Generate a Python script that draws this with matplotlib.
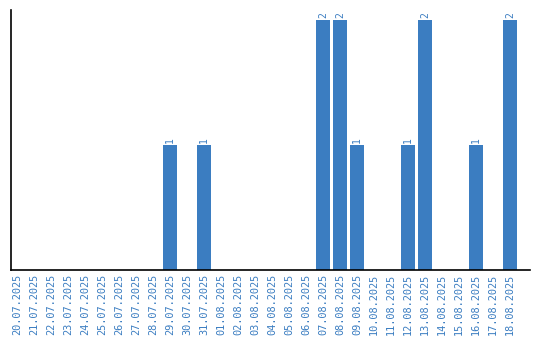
import matplotlib
matplotlib.use("Agg")
import matplotlib.pyplot as plt

dates = ["20.07.2025", "21.07.2025", "22.07.2025", "23.07.2025", "24.07.2025",
         "25.07.2025", "26.07.2025", "27.07.2025", "28.07.2025", "29.07.2025",
         "30.07.2025", "31.07.2025", "01.08.2025", "02.08.2025", "03.08.2025",
         "04.08.2025", "05.08.2025", "06.08.2025", "07.08.2025", "08.08.2025",
         "09.08.2025", "10.08.2025", "11.08.2025", "12.08.2025", "13.08.2025",
         "14.08.2025", "15.08.2025", "16.08.2025", "17.08.2025", "18.08.2025"]
counts = [0, 0, 0, 0, 0, 0, 0, 0, 0, 1,
          0, 1, 0, 0, 0, 0, 0, 0, 2, 2,
          1, 0, 0, 1, 2, 0, 0, 1, 0, 2]

color = "#3b7dc1"
fig = plt.figure(figsize=(5.4, 3.4), dpi=100)
ax = fig.add_axes([0.0204, 0.206, 0.961, 0.764])
x = list(range(len(dates)))
ax.bar(x, counts, width=0.82, color=color)
for xi, c in zip(x, counts):
    if c > 0:
        ax.text(xi, c + 0.02, str(c), rotation=90, ha="center", va="bottom",
                color=color, fontsize=7, family="DejaVu Sans Mono")
ax.set_xlim(-0.353, 30.18)
ax.set_ylim(0, 2.08)
ax.set_xticks(x)
ax.set_xticklabels(dates, rotation=90, color=color, fontsize=7.4, family="DejaVu Sans Mono")
ax.set_yticks([])
ax.tick_params(axis="x", length=0, pad=3)
for s in ["top", "right"]:
    ax.spines[s].set_visible(False)
for s in ["left", "bottom"]:
    ax.spines[s].set_linewidth(1.2)
fig.savefig("out.png", dpi=100)
